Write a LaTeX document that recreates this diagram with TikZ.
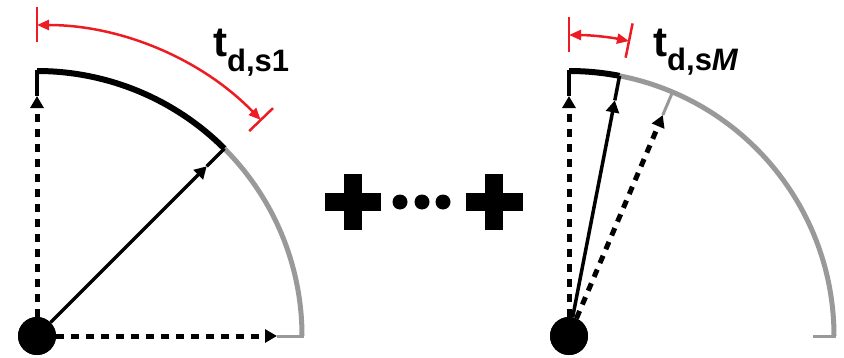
\documentclass[tikz,border=0pt]{standalone}
\usepackage{fontspec}
\setmainfont{Liberation Sans}
\usetikzlibrary{arrows.meta,calc}
\definecolor{arcgray}{HTML}{999999}
\definecolor{dimred}{HTML}{ED1C24}
\begin{document}
\begin{tikzpicture}[x=1pt,y=1pt,
  hub/.style={circle,fill=black,minimum size=38pt,inner sep=0pt},
  ray/.style={line width=3.5pt,-{Triangle[length=12pt,width=13pt]}},
  dray/.style={line width=5pt,dash pattern=on 8pt off 7pt,-{Triangle[length=12pt,width=13pt]}},
  donearc/.style={line width=6pt},
  restarc/.style={line width=5pt,arcgray},
  tick/.style={line width=3.5pt},
  gtick/.style={line width=3pt,arcgray},
  dimline/.style={dimred,line width=2.5pt,{Triangle[length=12pt,width=10pt]}-{Triangle[length=12pt,width=10pt]}},
  dimtick/.style={dimred,line width=2.5pt},
  lbl/.style={inner sep=0pt,anchor=base west,font=\bfseries},
  bar/.style={fill=black}
]
\useasboundingbox (0,0) rectangle (844,357);

% ---------- first sector ----------
\node[hub] (Ldot) at (37,21) {};
\coordinate (La) at ($(Ldot)+(90:240)$);
\coordinate (Lb) at ($(Ldot)+(45:240)$);
\coordinate (Lc) at ($(Ldot)+(0:240)$);
\draw[donearc] ($(Ldot)+(90:265)$) arc[start angle=90,end angle=45,radius=265];
\draw[restarc] ($(Ldot)+(45:265)$) arc[start angle=45,end angle=0,radius=265];
\draw[tick] (La) -- ($(Ldot)+(90:266)$);
\draw[tick] (Lb) -- ($(Ldot)+(45:265)$);
\draw[gtick] (Lc) -- ($(Ldot)+(0:267)$);
\draw[dray] (Ldot) -- (La);
\draw[ray] (Ldot) -- (Lb);
\draw[dray] (Ldot) -- (Lc);
\node[hub] at (Ldot) {};
% elapsed-time bracket
\draw[dimline] ($(Ldot)+(90:311)$) arc[start angle=90,end angle=44,radius=311];
\draw[dimtick] ($(Ldot)+(90:294)$) -- ($(Ldot)+(90:329)$);
\draw[dimtick] ($(Ldot)+(44:295)$) -- ($(Ldot)+(44:328)$);
\node[lbl] (Llbl) at (213,300) {\fontsize{42}{42}\selectfont t\raisebox{-15pt}{\fontsize{31}{31}\selectfont d,s1}};

% ---------- plus ... plus ----------
\fill[bar] (324.5,146) rectangle (381,164);
\fill[bar] (343.5,127) rectangle (361.5,183);
\fill[bar] (466,146) rectangle (522.5,164);
\fill[bar] (485,127) rectangle (503,183);
\fill (400,155) circle[radius=7.5];
\fill (422,155) circle[radius=7.5];
\fill (443,155) circle[radius=7.5];

% ---------- last sector ----------
\node[hub] (Rdot) at (569,21) {};
\coordinate (Ra) at ($(Rdot)+(90:240)$);
\coordinate (Rb) at ($(Rdot)+(79:240)$);
\coordinate (Rc) at ($(Rdot)+(67:240)$);
\coordinate (Rd) at ($(Rdot)+(0:244)$);
\draw[donearc] ($(Rdot)+(90:265)$) arc[start angle=90,end angle=79,radius=265];
\draw[restarc] ($(Rdot)+(79:265)$) arc[start angle=79,end angle=0,radius=265];
\draw[tick] (Ra) -- ($(Rdot)+(90:266)$);
\draw[tick] (Rb) -- ($(Rdot)+(79:265)$);
\draw[gtick] (Rc) -- ($(Rdot)+(67:265)$);
\draw[gtick] (Rd) -- ($(Rdot)+(0:267)$);
\draw[dray] (Rdot) -- (Ra);
\draw[ray] (Rdot) -- (Rb);
\draw[dray] (Rdot) -- (Rc);
\node[hub] at (Rdot) {};
\draw[dimline] ($(Rdot)+(90:301)$) arc[start angle=90,end angle=78.5,radius=301];
\draw[dimtick] ($(Rdot)+(90:284)$) -- ($(Rdot)+(90:319)$);
\draw[dimtick] ($(Rdot)+(78.5:284)$) -- ($(Rdot)+(78.5:319)$);
\node[lbl] (Rlbl) at (653,301) {\fontsize{42}{42}\selectfont t\raisebox{-14pt}{\fontsize{31}{31}\selectfont d,s\textit{M}}};
\end{tikzpicture}
\end{document}
